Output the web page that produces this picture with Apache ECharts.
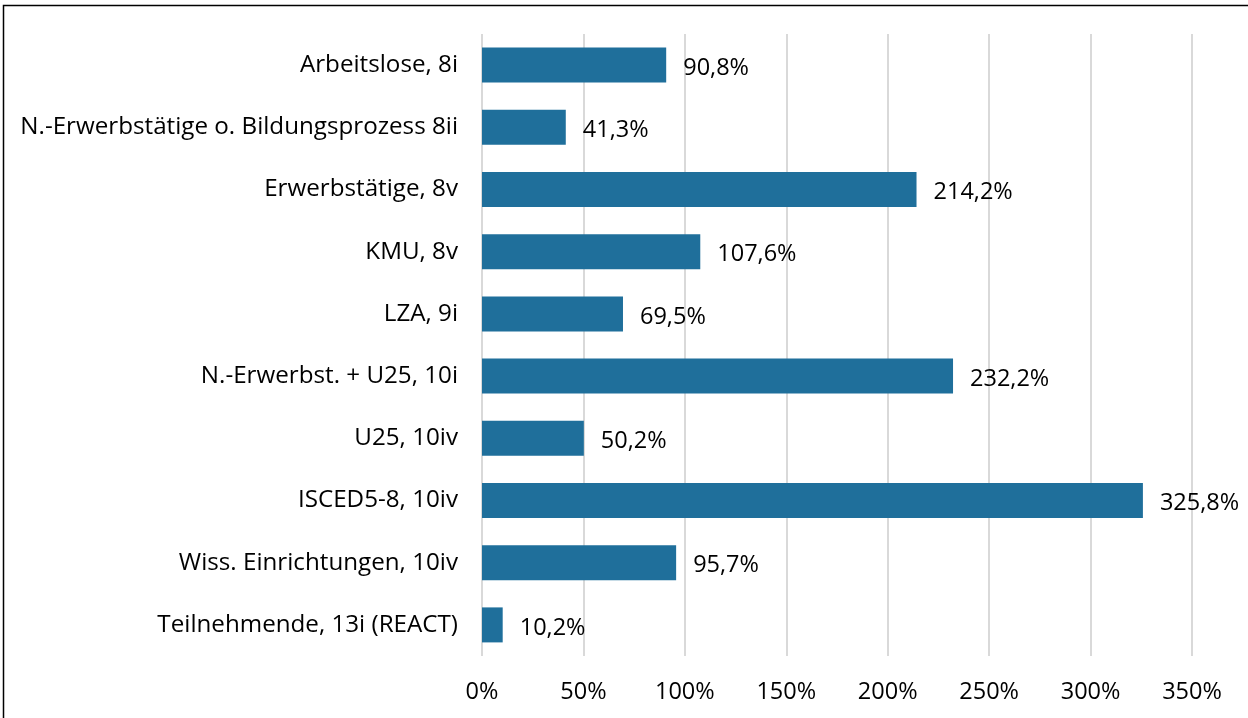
<!DOCTYPE html>
<html>
<head>
<meta charset="utf-8">
<script src="https://cdn.jsdelivr.net/npm/echarts@6/dist/echarts.min.js"></script>
<style>
  html, body { margin: 0; padding: 0; background: #fff; }
  #chart { width: 1248px; height: 718px; }
</style>
</head>
<body>
<div id="chart"></div>
<script>
// categories listed top to bottom
const categories = [
  "Arbeitslose, 8i",
  "N.-Erwerbstätige o. Bildungsprozess 8ii",
  "Erwerbstätige, 8v",
  "KMU, 8v",
  "LZA, 9i",
  "N.-Erwerbst. + U25, 10i",
  "U25, 10iv",
  "ISCED5-8, 10iv",
  "Wiss. Einrichtungen, 10iv",
  "Teilnehmende, 13i (REACT)"
];
const values = [90.8, 41.3, 214.2, 107.6, 69.5, 232.2, 50.2, 325.8, 95.7, 10.2];

const fmt = v => v.toFixed(1).replace(".", ",") + "%";
const FS = 23.5;

const chart = echarts.init(document.getElementById("chart"));
chart.setOption({
  animation: false,
  textStyle: { fontFamily: "Open Sans" },
  graphic: [
    {
      type: "rect",
      shape: { x: 3.5, y: 5.5, width: 1260, height: 730 },
      style: { fill: "none", stroke: "#000", lineWidth: 1.5 },
      silent: true
    }
  ],
  grid: { left: 482, right: 56, top: 34, bottom: 62 },
  xAxis: {
    type: "value",
    min: 0,
    max: 350,
    interval: 50,
    axisLine: { show: false },
    axisTick: { show: false },
    axisLabel: {
      formatter: "{value}%",
      color: "#000",
      fontSize: FS,
      margin: 24
    },
    splitLine: { lineStyle: { color: "#d9d9d9", width: 2 } }
  },
  yAxis: {
    type: "category",
    data: categories,
    inverse: true,
    axisLine: { show: false },
    axisTick: { show: false },
    axisLabel: { color: "#000", fontSize: 24.2, margin: 24 }
  },
  series: [
    {
      type: "bar",
      data: values,
      barWidth: 35,
      itemStyle: { color: "#1f6f9b" },
      label: {
        show: true,
        position: "right",
        distance: 17,
        color: "#000",
        fontSize: FS,
        offset: [0, 3],
        formatter: p => fmt(p.value)
      }
    }
  ]
});
</script>
</body>
</html>
